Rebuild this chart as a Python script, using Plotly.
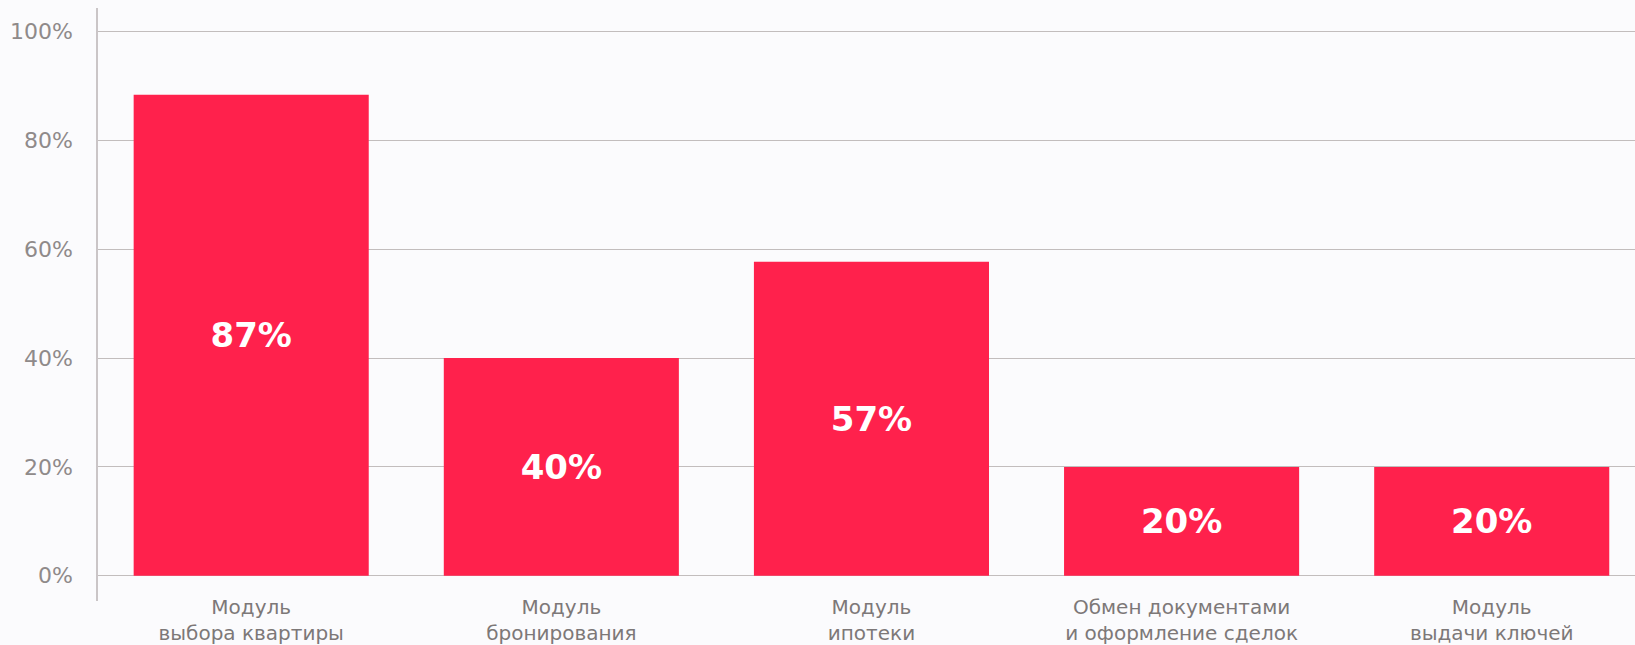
import plotly.graph_objects as go

categories = [
    "Модуль<br>выбора квартиры",
    "Модуль<br>бронирования",
    "Модуль<br>ипотеки",
    "Обмен документами<br>и оформление сделок",
    "Модуль<br>выдачи ключей",
]
bar_heights = [88.4, 40, 57.7, 20, 20]
bar_labels = ["87%", "40%", "57%", "20%", "20%"]
y_ticks = [0, 20, 40, 60, 80, 100]
y_tick_labels = ["0%", "20%", "40%", "60%", "80%", "100%"]

BG = "#fbfbfd"
RED = "#ff214c"

fig = go.Figure(
    go.Bar(
        x=list(range(len(categories))),
        y=bar_heights,
        text=bar_labels,
        textposition="inside",
        insidetextanchor="middle",
        textangle=0,
        textfont=dict(family="DejaVu Sans", size=34, color="white", weight="bold"),
        marker=dict(color=RED, line=dict(width=0)),
        width=0.758,
        hoverinfo="skip",
    )
)

fig.update_layout(
    width=1635,
    height=645,
    margin=dict(l=98, r=0, t=8, b=44),
    paper_bgcolor=BG,
    plot_bgcolor=BG,
    showlegend=False,
)

fig.update_xaxes(
    range=[-0.494, 4.462],
    tickmode="array",
    tickvals=list(range(len(categories))),
    ticktext=categories,
    tickfont=dict(family="DejaVu Sans", size=20, color="#7d7878"),
    showgrid=False,
    zeroline=False,
    showline=False,
    ticks="",
    ticklabelstandoff=-8,
)

fig.update_yaxes(
    range=[-4.65, 104.36],
    tickmode="array",
    tickvals=y_ticks,
    ticktext=y_tick_labels,
    tickfont=dict(family="DejaVu Sans", size=22, color="#8f8a8a"),
    showgrid=True,
    gridcolor="#c2bdbd",
    gridwidth=1.3,
    zeroline=False,
    showline=True,
    linecolor="#cac5c7",
    linewidth=1.6,
    ticks="",
    ticklabelstandoff=19,
)

fig.write_html(
    "out.html",
    config={"displayModeBar": False},
    post_script="document.body.style.margin='0';document.body.style.background='" + BG + "';",
)
